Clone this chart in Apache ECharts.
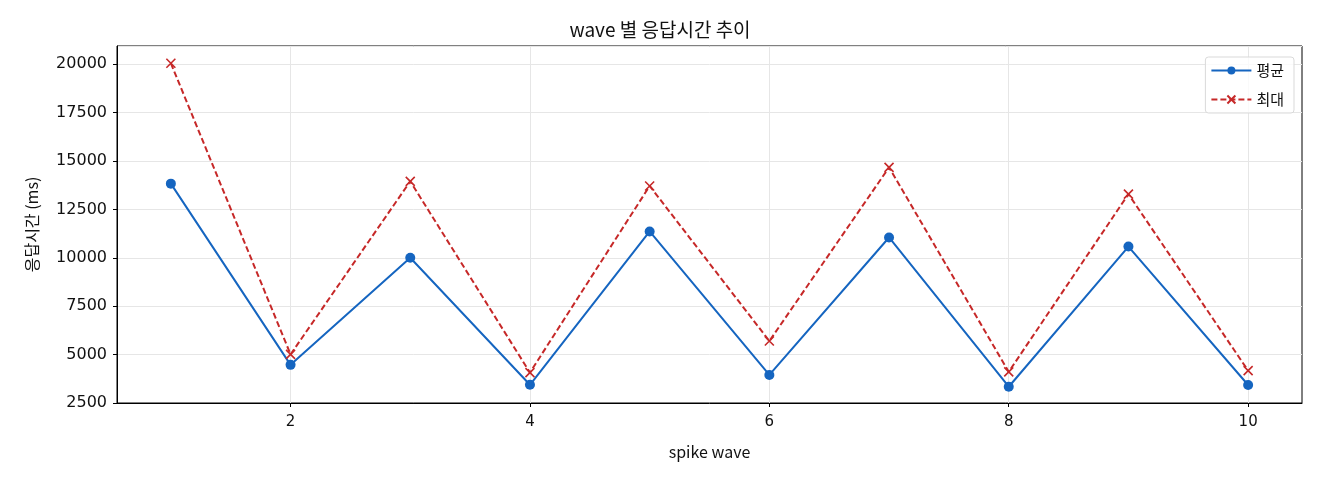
<!DOCTYPE html>
<html>
<head>
<meta charset="utf-8">
<script src="https://cdn.jsdelivr.net/npm/echarts@6/dist/echarts.min.js"></script>
<style>
  html, body { margin: 0; padding: 0; background: #fff; }
  #chart { width: 1320px; height: 480px; }
</style>
</head>
<body>
<div id="chart"></div>
<script>
// wave numbers
const waves = [1, 2, 3, 4, 5, 6, 7, 8, 9, 10];
// response time (ms)
const avgValues = [13830, 4470, 10000, 3440, 11360, 3950, 11050, 3340, 10580, 3430];
const maxValues = [20050, 5010, 13950, 4070, 13710, 5700, 14670, 4110, 13290, 4170];
const xTicks = [2, 4, 6, 8, 10];

const FONT = "'Noto Sans CJK KR', 'DejaVu Sans', sans-serif";
const NUM_FONT = "'DejaVu Sans', sans-serif";
const chart = echarts.init(document.getElementById("chart"));

const option = {
  animation: false,
  textStyle: { fontFamily: FONT },
  title: {
    text: "wave 별 응답시간 추이",
    left: "center",
    top: 15,
    textStyle: { fontFamily: FONT, fontSize: 19, fontWeight: "normal", color: "#111" },
  },
  legend: {
    right: 26,
    top: 57,
    orient: "vertical",
    itemGap: 14,
    itemWidth: 40,
    itemHeight: 10,
    padding: [6, 10, 6, 5],
    borderColor: "#d9d9d9",
    borderWidth: 1,
    borderRadius: 3,
    backgroundColor: "rgba(255,255,255,0.8)",
    textStyle: { fontFamily: FONT, fontSize: 15, color: "#111" },
    data: ["평균", "최대"],
  },
  grid: {
    left: 117,
    right: 18,
    top: 46,
    bottom: 77,
    show: true,
    borderColor: "#000",
    borderWidth: 1,
  },
  xAxis: {
    type: "value",
    min: 0.55,
    max: 10.45,
    name: "spike wave",
    nameLocation: "middle",
    nameGap: 41,
    nameTextStyle: { fontFamily: FONT, fontSize: 16, color: "#111" },
    axisLine: { show: true, lineStyle: { color: "#000" } },
    axisTick: { show: true, length: 4, customValues: xTicks, lineStyle: { color: "#000" } },
    axisLabel: { customValues: xTicks, fontSize: 15, color: "#111", margin: 12, fontFamily: NUM_FONT },
    splitLine: { show: true, lineStyle: { color: "#e6e6e6" } },
  },
  yAxis: {
    type: "value",
    min: 2500,
    max: 20940,
    interval: 2500,
    name: "응답시간 (ms)",
    nameLocation: "middle",
    nameGap: 77,
    nameTextStyle: { fontFamily: FONT, fontSize: 16, color: "#111" },
    axisLine: { show: true, lineStyle: { color: "#000" } },
    axisTick: { show: true, length: 4, lineStyle: { color: "#000" } },
    axisLabel: {
      fontSize: 16,
      color: "#111",
      margin: 10,
      showMaxLabel: false,
      fontFamily: NUM_FONT,
      formatter: (v) => String(v),
    },
    splitLine: { show: true, lineStyle: { color: "#e6e6e6" } },
  },
  series: [
    {
      name: "평균",
      type: "line",
      data: waves.map((w, i) => [w, avgValues[i]]),
      symbol: "circle",
      symbolSize: 10,
      lineStyle: { color: "#1565c0", width: 2 },
      itemStyle: { color: "#1565c0" },
    },
    {
      name: "최대",
      type: "line",
      data: waves.map((w, i) => [w, maxValues[i]]),
      symbol: "path://M0,0L10,10M10,0L0,10",
      symbolSize: 9,
      lineStyle: { color: "#c62828", width: 2, type: [6, 3] },
      itemStyle: { color: "#c62828", borderColor: "#c62828", borderWidth: 1.6 },
    },
  ],
};

chart.setOption(option);
</script>
</body>
</html>
